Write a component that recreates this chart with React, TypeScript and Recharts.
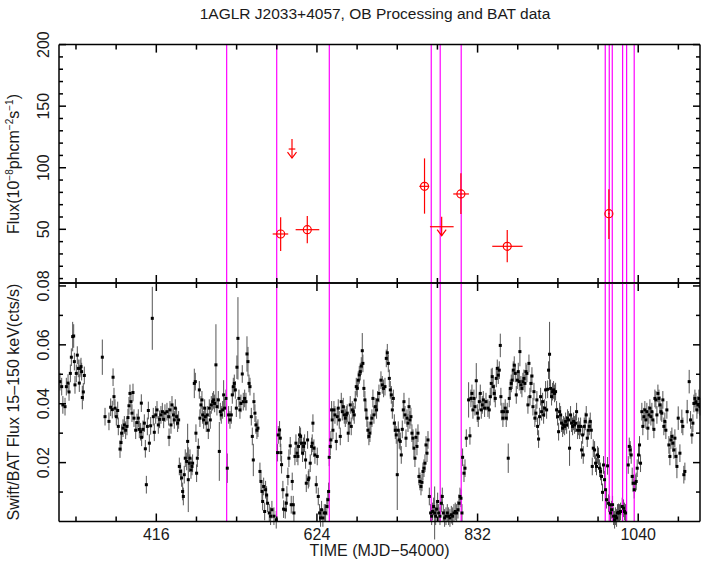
import React from "react";
import { ComposedChart, Scatter, XAxis, YAxis, ErrorBar, ReferenceLine } from "recharts";

const FONT = "'Liberation Sans', Arial, Helvetica, sans-serif";
const TEXT = "#1a1a1a";
const MAGENTA = "#ff00ff";
const RED = "#ff0000";

const X_DOMAIN = [290, 1120];
const X_TICKS = [312, 364, 416, 468, 520, 572, 624, 676, 728, 780, 832, 884, 936, 988, 1040, 1092];
const X_LABELS = [416, 624, 832, 1040];

const FLUX_TICKS = [10, 20, 30, 40, 50, 60, 70, 80, 90, 100, 110, 120, 130, 140, 150, 160, 170, 180, 190, 200];
const FLUX_LABELS = [50, 100, 150, 200];
const BAT_TICKS = [0.01, 0.02, 0.03, 0.04, 0.05, 0.06, 0.07, 0.08];
const BAT_LABELS = [0.02, 0.04, 0.06, 0.08];

// times of the pointing boundaries (MJD-54000)
const obsLines = [507.1, 571.9, 640, 772, 783.6, 810.8, 997.3, 1002.5, 1006.4, 1019.8, 1025, 1034.8];

// AGILE detections: t, flux, err lo, err hi, t lo, t hi
const agileDet = [
  [577, 46.2, 13.8, 13.5, 10.3, 9.8],
  [611.5, 49.7, 11.1, 11.1, 15.1, 15.5],
  [763.3, 84.9, 22.2, 22.7, 6.8, 6.1],
  [810.4, 78.7, 16.3, 16.8, 9.9, 10.4],
  [870.4, 36.2, 13, 13.2, 19.4, 19.9],
  [1002, 62.7, 20.6, 19.8, 1, 1],
];

// AGILE upper limits: t, flux UL, t lo, t hi
const agileUL = [
  [591.7, 115.2, 4.3, 4.3],
  [785.5, 52.1, 15.2, 15.5],
];

// Swift/BAT daily rates: t, rate, err (default 0.003)
const batPoints = [
  [291.3, 0.0475], [293.5, 0.0458], [295, 0.0396], [297.8, 0.039], [299.5, 0.0458], [301.7, 0.047], [303, 0.044],
  [304.7, 0.0503], [306, 0.0558], [307.7, 0.0628, 0.005], [309, 0.063, 0.004], [309.9, 0.0543], [310.7, 0.0464],
  [312.4, 0.0503], [313.7, 0.0565], [315, 0.052], [316.3, 0.047], [317.2, 0.052], [318.5, 0.0526], [319.3, 0.0509],
  [320.2, 0.0421, 0.004], [321.5, 0.044], [322.8, 0.0496],
  [346.1, 0.0558, 0.006], [349.6, 0.0356], [354.7, 0.034], [356.9, 0.0388], [359, 0.038], [360, 0.049], [361.2, 0.0424],
  [362.5, 0.0385], [364.2, 0.0356], [366, 0.0377], [366.8, 0.0323], [369, 0.0246], [370.3, 0.0268], [371.1, 0.03],
  [372.9, 0.0317], [374.6, 0.0328], [376.3, 0.031], [378, 0.0323], [379.3, 0.0353], [380.6, 0.0393], [381.9, 0.0435],
  [383.2, 0.0407], [384.5, 0.0368], [385.8, 0.0438], [387.1, 0.0351], [389.3, 0.031], [391, 0.0336], [392.7, 0.0351],
  [394, 0.0313], [395.7, 0.0305], [396.6, 0.0402], [397, 0.0286], [398.8, 0.0313], [400.5, 0.0334], [401.8, 0.0247],
  [403.1, 0.0125], [404.4, 0.0323], [405.7, 0.0377], [407, 0.0266], [408.7, 0.0325], [410.8, 0.069, 0.0107],
  [412.1, 0.0356], [413.4, 0.0303], [415.2, 0.0362], [416.9, 0.0379], [418.6, 0.0328], [420.3, 0.0347], [422, 0.0362],
  [423.8, 0.0373], [425.5, 0.0347], [427.2, 0.0368],
  [429.8, 0.0373], [432, 0.0356], [432.5, 0.0286], [433.7, 0.0379], [435, 0.0328], [436.3, 0.0396], [438, 0.0362],
  [439.3, 0.0345], [440.6, 0.0385], [442.3, 0.0356], [443.6, 0.0334], [444.9, 0.0345], [445.8, 0.0187], [447.5, 0.017],
  [448.8, 0.0148], [450.1, 0.0102], [451, 0.0085], [452.2, 0.0159], [453.5, 0.0215], [455.3, 0.0204],
  [456.6, 0.0272, 0.006], [457.4, 0.0142, 0.011], [458.7, 0.0198], [459.6, 0.0215], [460.9, 0.0175], [462.2, 0.0187],
  [463, 0.0198], [465.2, 0.0469, 0.005], [466.5, 0.0475], [467.3, 0.03], [468.2, 0.0164], [469.1, 0.0215],
  [470.4, 0.0252], [471.7, 0.0447], [472.5, 0.0351], [473.8, 0.0396], [475.1, 0.0413], [476, 0.0362], [477.3, 0.0345],
  [478.6, 0.0385], [479.4, 0.0356], [480.7, 0.0334], [482, 0.0362], [483.3, 0.031], [484.6, 0.0385], [485.9, 0.0345],
  [487.2, 0.0396], [489, 0.0407], [490.2, 0.0413], [491.5, 0.0401], [493.2, 0.0532, 0.0138], [494.5, 0.039],
  [496.3, 0.0413], [497.6, 0.0238, 0.01], [498.9, 0.0373], [500.1, 0.0362], [501.9, 0.0379], [503.2, 0.043, 0.005],
  [504.5, 0.0385], [506.2, 0.0418], [507.9, 0.0181, 0.005], [509.6, 0.0362], [511.4, 0.0345], [513.1, 0.0362],
  [514.4, 0.043], [515.7, 0.0458], [517, 0.0469], [518.3, 0.0447], [519.6, 0.0385], [520.4, 0.0524, 0.004],
  [521.7, 0.0622, 0.014], [523, 0.0418], [524.3, 0.0379], [525.6, 0.0401], [527.3, 0.0501], [528.6, 0.0407],
  [530.4, 0.0418], [532.1, 0.0407], [533.4, 0.0569, 0.006], [534.7, 0.0543, 0.005], [536, 0.0469], [537.3, 0.0458],
  [539, 0.0356], [540.3, 0.0289], [541.6, 0.0209, 0.0055], [542.4, 0.0407], [543.7, 0.0368], [545, 0.0328],
  [546.3, 0.031], [547.6, 0.0317], [550.2, 0.017], [551.5, 0.0136], [552.8, 0.0102], [553.7, 0.0068], [555, 0.0119],
  [556.3, 0.0034], [557.5, 0.0108], [558.8, 0.009], [560.1, 0.0062], [562.3, 0.0029], [564, 0.0018], [565.7, 0.004],
  [568.3, 0.0018], [571.3, 0.0006], [573, 0.0234], [573.9, 0.0294], [575.6, 0.0311], [576.5, 0.0283], [577.2, 0.0234],
  [578.2, 0.0193], [579.9, 0.0108], [580.8, 0.0042], [583, 0.004], [584.3, 0.0062], [585.1, 0.009], [586.4, 0.0153],
  [587.7, 0.0215], [589.4, 0.0257], [590.7, 0.0057], [592, 0.0136], [593.3, 0.0057], [594.2, 0.0029], [595.5, 0.0221],
  [596.8, 0.0266], [598.1, 0.0232], [599.4, 0.0221], [600.2, 0.0255], [601.5, 0.0294], [602.8, 0.0289], [604.1, 0.0266],
  [605.4, 0.0232], [606.7, 0.0255], [608, 0.0266], [609.3, 0.0209], [610.2, 0.013], [611.9, 0.0277], [612.8, 0.0142],
  [613.6, 0.0148], [615.3, 0.0198], [617.1, 0.0255], [617.9, 0.0266], [618.8, 0.0334], [620.1, 0.0249], [621.4, 0.0226],
  [623.1, 0.0125], [624.4, 0.0221], [625.7, 0.0085], [627.4, 0.0029], [628.7, 0.0012], [630, 0.004], [631.7, 0.0012],
  [633.5, 0.0029], [635.2, 0.0029], [636.9, 0.0051], [638.2, 0.0074], [639.1, 0.0102], [639.9, 0.0218], [641.2, 0.0255],
  [642.1, 0.0277], [643, 0.0379], [643.8, 0.0345], [644.7, 0.031], [646, 0.0379], [647.3, 0.0362], [649, 0.0272],
  [650.3, 0.0356], [651.6, 0.0385], [652.9, 0.0345], [654.2, 0.0289], [655.5, 0.0407], [656.8, 0.0373], [658.1, 0.039],
  [659.4, 0.0362], [660.7, 0.0351], [662, 0.0362], [663.2, 0.0368], [664.5, 0.03], [665.8, 0.0334], [667.1, 0.0396],
  [668.4, 0.0323], [669.7, 0.0379], [671, 0.0373], [672.3, 0.0362], [673.6, 0.0413], [674.9, 0.0458], [676.2, 0.0452],
  [677.5, 0.048], [678.8, 0.0498], [680.1, 0.0509], [681.4, 0.0528], [682.7, 0.058, 0.006], [683.5, 0.0537],
  [684.8, 0.0452], [686.1, 0.0413], [687.4, 0.0379], [688.7, 0.0351], [690, 0.031], [691.3, 0.0289], [692.6, 0.03],
  [693.9, 0.0334], [695.2, 0.0351], [696.5, 0.0418], [697.8, 0.0362], [699.5, 0.039], [701.2, 0.0379], [702.5, 0.0413],
  [704.3, 0.0435],
  [706.9, 0.048], [708.6, 0.0464], [710.3, 0.0452], [712.1, 0.0458], [713.8, 0.0554], [715.1, 0.0573], [716.4, 0.0537],
  [717.7, 0.0486], [719, 0.0447], [720.3, 0.043], [721.6, 0.0379], [722.9, 0.0418], [724.2, 0.0334], [725.5, 0.031],
  [726.7, 0.0294], [728, 0.0159, 0.012], [729.3, 0.031], [730.6, 0.0277], [731.9, 0.0272], [733.2, 0.0226],
  [734.5, 0.0313], [735.8, 0.0379], [736.7, 0.0407], [738, 0.0362], [739.3, 0.0283], [740.6, 0.0351], [741.9, 0.0334],
  [743.2, 0.039], [744.4, 0.0345], [745.7, 0.0356], [747, 0.03], [748.3, 0.0283], [749.6, 0.0249], [750.9, 0.0215],
  [752.2, 0.0286], [753.5, 0.0255], [754.8, 0.03], [756.1, 0.0153], [757.4, 0.0136], [758.7, 0.0119], [760, 0.0133],
  [761.3, 0.017], [762.6, 0.0181], [763.9, 0.0198], [765.2, 0.026], [766.5, 0.0232], [767.8, 0.0277], [769.5, 0.0085],
  [771.2, 0.0029], [772.5, 0.0018], [773.8, 0.0034], [775.1, 0.0051], [776.4, 0.0029, 0.009], [777.7, 0.0018],
  [779, 0.0042], [780.3, 0.0068], [781.6, 0.0029], [783.3, 0.0018], [785, 0.0062], [786.3, 0.0085], [787.6, 0.0029],
  [789.3, 0.0012], [791.1, 0.0018], [792.8, 0.0029], [794.5, 0.0018], [796.2, 0.0012], [798, 0.0023], [799.7, 0.0018],
  [801.4, 0.0029], [803.1, 0.0034], [804.9, 0.0029], [806.6, 0.004], [807.9, 0.0062], [809.2, 0.0085], [810.5, 0.0079],
  [811.8, 0.0029], [812.6, 0.0218], [814.4, 0.0164], [815.7, 0.0181], [817.4, 0.0283], [820.4, 0.0413, 0.006],
  [822.1, 0.0291], [823.4, 0.0418], [824.7, 0.0435], [826, 0.0379], [827.3, 0.0418], [828.6, 0.039], [830.3, 0.0478, 0.006],
  [831.6, 0.0368], [832.9, 0.0351], [834.2, 0.0407], [835.5, 0.0435], [836.8, 0.0379], [838.1, 0.0396], [839.4, 0.0413],
  [841.1, 0.0385], [842.9, 0.0407],
  [845.4, 0.0385], [847.1, 0.0379], [848.4, 0.0424], [849.7, 0.0469, 0.005], [851, 0.0492], [852.3, 0.0458],
  [853.6, 0.0435], [854.9, 0.0418], [856.2, 0.0486], [857.5, 0.052], [858.8, 0.0497], [860.1, 0.0514], [861.4, 0.0598, 0.004],
  [862.2, 0.0424], [863.5, 0.0373], [864.8, 0.0351], [866.1, 0.0373], [867.8, 0.0385], [869.1, 0.0351], [870.4, 0.0373],
  [871.7, 0.0215, 0.005], [873, 0.0418], [874.3, 0.0452], [875.6, 0.0469], [876.9, 0.048], [878.2, 0.0514], [879.5, 0.0531],
  [880.8, 0.0503], [882.1, 0.043], [883.4, 0.048], [884.7, 0.0509], [886, 0.0475], [886.8, 0.0577, 0.005], [888.1, 0.0464],
  [889.4, 0.0452], [890.7, 0.0475], [892, 0.0486], [893.3, 0.0469], [894.6, 0.0509], [895.9, 0.0503], [897.2, 0.0396],
  [898.5, 0.0537], [899.8, 0.0424], [901.1, 0.0469], [902.4, 0.0494], [903.7, 0.039], [905, 0.0441], [906.2, 0.0351],
  [907.5, 0.0368], [908.8, 0.0413], [909.7, 0.0323], [911, 0.028], [912.3, 0.0356], [913.6, 0.0424], [914.9, 0.0373],
  [916.2, 0.0407], [917.5, 0.0362], [918.8, 0.0385], [920.1, 0.0447], [921.4, 0.0379], [922.7, 0.0449], [923.9, 0.0514],
  [925.2, 0.0568, 0.011], [926.5, 0.0452], [927.8, 0.0424], [929.1, 0.0441], [930.4, 0.0447], [931.7, 0.0435],
  [933, 0.0441], [934.3, 0.0379], [935.6, 0.0356], [936.9, 0.0305], [938.2, 0.0373], [939.5, 0.0362], [940.8, 0.0334],
  [942.1, 0.0317], [943.4, 0.0328], [944.7, 0.0323], [946, 0.034], [947.3, 0.0328], [948.5, 0.0351], [949.8, 0.0345],
  [951.1, 0.0249, 0.006], [952.4, 0.0362], [953.7, 0.0334], [955, 0.0323], [956.3, 0.034], [957.6, 0.0328],
  [958.9, 0.0334], [960.2, 0.0373], [961.5, 0.031], [962.8, 0.0323], [964.1, 0.031], [965.4, 0.0323], [966.7, 0.0243],
  [968, 0.0294], [968.8, 0.0226], [970.1, 0.0323], [971.4, 0.034], [972.7, 0.0362], [974, 0.0283], [975.3, 0.031],
  [976.6, 0.0323], [977.9, 0.034], [979.2, 0.031], [980.5, 0.0187], [981.8, 0.0249],
  [983.5, 0.0243], [984.8, 0.0198], [986, 0.0187], [987.3, 0.0226], [988.6, 0.0221], [989.9, 0.0181], [991.2, 0.017],
  [992.5, 0.0153], [993.8, 0.0099], [995.1, 0.0192], [996.4, 0.0142], [997.7, 0.0108], [999, 0.0074], [1000.3, 0.0189],
  [1001.6, 0.0062], [1002.9, 0.0057], [1004.2, 0.0029], [1005.5, 0.004], [1006.8, 0.0057], [1008.1, 0.0018],
  [1009.4, 0.0006], [1010.7, 0.0018], [1012, 0.0012], [1013.2, 0.0029], [1014.5, 0.0031], [1015.8, 0.0029],
  [1017.1, 0.0034], [1019.3, 0.0051], [1021, 0.0045], [1022.3, 0.0034], [1023.6, 0.0029], [1027.1, 0.0192],
  [1028.4, 0.0255], [1029.6, 0.0243], [1030.9, 0.0226], [1032.2, 0.0153], [1033.5, 0.013], [1034.8, 0.0108],
  [1036.1, 0.013], [1037.4, 0.0136], [1038.7, 0.0181], [1040.4, 0.0226], [1041.7, 0.026], [1043, 0.0198],
  [1044.7, 0.0373], [1046, 0.0323], [1047.3, 0.0356], [1048.6, 0.0379], [1049.9, 0.0345], [1051.2, 0.0373],
  [1052.5, 0.0317, 0.004], [1053.8, 0.0362], [1055.1, 0.0385], [1056.4, 0.0356], [1057.7, 0.0373], [1059, 0.0345],
  [1060.3, 0.0313], [1061.6, 0.0418], [1062.9, 0.0413], [1064.2, 0.0362], [1065.5, 0.0435], [1066.8, 0.0418],
  [1068.1, 0.0396], [1069.4, 0.0373], [1070.6, 0.0368], [1071.9, 0.0413], [1073.2, 0.0323], [1074.5, 0.034],
  [1075.8, 0.031], [1077.1, 0.0379], [1079.7, 0.026], [1081, 0.0221], [1082.3, 0.0277], [1083.6, 0.0289],
  [1084.9, 0.0266], [1086.2, 0.0243], [1087.5, 0.0283], [1088.8, 0.0221], [1090.1, 0.0187, 0.004], [1091.8, 0.0351, 0.004],
  [1094, 0.0232], [1096.5, 0.034, 0.004], [1097.8, 0.0323], [1099.1, 0.0159], [1100.4, 0.017], [1103.4, 0.0373, 0.004],
  [1106, 0.0475, 0.004], [1107.8, 0.0345], [1109.5, 0.0294], [1110.8, 0.0334], [1112.1, 0.0401], [1113.4, 0.0418],
  [1114.7, 0.0407], [1116, 0.0379], [1117.3, 0.0396], [1118.6, 0.0418], [1119.9, 0.039],
];

const detData = agileDet.map(([t, f, lo, hi, tlo, thi]) => ({ t, f, ey: [lo, hi], ex: [tlo, thi] }));
const ulData = agileUL.map(([t, f, tlo, thi]) => ({ t, f, ex: [tlo, thi] }));
const batData = batPoints.map(([t, f, e]) => ({ t, f, e: e ?? 0.003 }));

function XTick(props: any) {
  const { x, y, payload, side, label } = props;
  const major = X_LABELS.includes(payload.value);
  const len = major ? 8 : 5;
  const dir = side === "top" ? 1 : -1;
  return (
    <g>
      <line x1={x} y1={y} x2={x} y2={y + dir * len} stroke="#000" strokeWidth={1.5} />
      {label && major && (
        <text x={x} y={y + 18.5} textAnchor="middle" fontSize={16} fontFamily={FONT} fill={TEXT}>
          {payload.value}
        </text>
      )}
    </g>
  );
}

function YTick(props: any) {
  const { x, y, payload, side, labels, digits } = props;
  const major = labels.includes(payload.value);
  const len = major ? 7 : 4;
  const dir = side === "left" ? 1 : -1;
  const lx = x - 10;
  return (
    <g>
      <line x1={x} y1={y} x2={x + dir * len} y2={y} stroke="#000" strokeWidth={1.5} />
      {side === "left" && major && (
        <text
          x={lx}
          y={y}
          transform={`rotate(-90, ${lx}, ${y})`}
          textAnchor="middle"
          fontSize={16}
          fontFamily={FONT}
          fill={TEXT}
        >
          {payload.value.toFixed(digits)}
        </text>
      )}
    </g>
  );
}

function UpperLimit(props: any) {
  const { cx, cy } = props;
  return (
    <g stroke={RED} strokeWidth={1.2} fill="none">
      <line x1={cx} y1={cy - 10} x2={cx} y2={cy + 9} />
      <polyline points={`${cx - 4.5},${cy + 3} ${cx},${cy + 9} ${cx + 4.5},${cy + 3}`} />
    </g>
  );
}

const axisLine = { stroke: "#000", strokeWidth: 1.5 };

// axes are 1px thick so that recharts draws them; margins are 1px smaller to compensate
function xAxes(bottomLabel: boolean) {
  return [
    <XAxis
      key="xb"
      xAxisId={0}
      type="number"
      dataKey="t"
      domain={X_DOMAIN}
      allowDataOverflow
      ticks={X_TICKS}
      interval={0}
      height={1}
      tickSize={0}
      tickMargin={0}
      tickLine={false}
      axisLine={axisLine}
      tick={(p: any) => <XTick {...p} side="bottom" label={bottomLabel} />}
    />,
    <XAxis
      key="xt"
      xAxisId="t"
      orientation="top"
      type="number"
      dataKey="t"
      domain={X_DOMAIN}
      allowDataOverflow
      ticks={X_TICKS}
      interval={0}
      height={1}
      tickSize={0}
      tickMargin={0}
      tickLine={false}
      axisLine={axisLine}
      tick={(p: any) => <XTick {...p} side="top" label={false} />}
    />,
  ];
}

function yAxes(domain: number[], ticks: number[], labels: number[], digits: number) {
  return [
    <YAxis
      key="yl"
      yAxisId={0}
      type="number"
      domain={domain}
      allowDataOverflow
      ticks={ticks}
      interval={0}
      width={1}
      tickSize={0}
      tickMargin={0}
      tickLine={false}
      axisLine={axisLine}
      tick={(p: any) => <YTick {...p} side="left" labels={labels} digits={digits} />}
    />,
    <YAxis
      key="yr"
      yAxisId="r"
      orientation="right"
      type="number"
      domain={domain}
      allowDataOverflow
      ticks={ticks}
      interval={0}
      width={1}
      tickSize={0}
      tickMargin={0}
      tickLine={false}
      axisLine={axisLine}
      tick={(p: any) => <YTick {...p} side="right" labels={labels} digits={digits} />}
    />,
  ];
}

export default function App() {
  return (
    <div style={{ position: "absolute", left: 0, top: 0, width: 701, height: 567, background: "#fff" }}>
      <svg width={701} height={567} style={{ position: "absolute", left: 0, top: 0 }} fontFamily={FONT} fill={TEXT}>
        <text x={375} y={19} textAnchor="middle" fontSize={15.5}>
          1AGLR J2033+4057, OB Processing and BAT data
        </text>
        <text x={379.5} y={556} textAnchor="middle" fontSize={16}>
          TIME (MJD−54000)
        </text>
        <text x={19} y={164} transform="rotate(-90, 19, 164)" textAnchor="middle" fontSize={16}>
          Flux(10
          <tspan dy={-6} fontSize={10}>−8</tspan>
          <tspan dy={6}>phcm</tspan>
          <tspan dy={-6} fontSize={10}>−2</tspan>
          <tspan dy={6}>s</tspan>
          <tspan dy={-6} fontSize={10}>−1</tspan>
          <tspan dy={6}>)</tspan>
        </text>
        <text x={19} y={402} transform="rotate(-90, 19, 402)" textAnchor="middle" fontSize={16}>
          Swift/BAT Flux 15–150 keV(cts/s)
        </text>
      </svg>

      <div style={{ position: "absolute", left: 0, top: 0 }}>
        <ComposedChart width={701} height={300} margin={{ top: 43.6, right: 0, bottom: 16, left: 58 }}>
          {xAxes(false)}
          {yAxes([6.4, 200], FLUX_TICKS, FLUX_LABELS, 0)}
          {obsLines.map((v) => (
            <ReferenceLine key={v} x={v} stroke={MAGENTA} strokeWidth={1.2} />
          ))}
          <Scatter
            data={detData}
            dataKey="f"
            isAnimationActive={false}
            shape={(p: any) => <circle cx={p.cx} cy={p.cy} r={4} fill="none" stroke={RED} strokeWidth={1.2} />}
          >
            <ErrorBar dataKey="ey" direction="y" width={0} stroke={RED} strokeWidth={1.2} />
            <ErrorBar dataKey="ex" direction="x" width={0} stroke={RED} strokeWidth={1.2} />
          </Scatter>
          <Scatter data={ulData} dataKey="f" isAnimationActive={false} shape={(p: any) => <UpperLimit {...p} />}>
            <ErrorBar dataKey="ex" direction="x" width={0} stroke={RED} strokeWidth={1.2} />
          </Scatter>
        </ComposedChart>
      </div>

      <div style={{ position: "absolute", left: 0, top: 270 }}>
        <ComposedChart width={701} height={297} margin={{ top: 12, right: 0, bottom: 44.5, left: 58 }}>
          {xAxes(true)}
          {yAxes([0, 0.081], BAT_TICKS, BAT_LABELS, 2)}
          <Scatter
            data={batData}
            dataKey="f"
            isAnimationActive={false}
            shape={(p: any) => <rect x={p.cx - 1.5} y={p.cy - 1.5} width={3} height={3} fill="#000" />}
          >
            <ErrorBar dataKey="e" direction="y" width={0} stroke="#555" strokeWidth={1} />
          </Scatter>
          {obsLines.map((v) => (
            <ReferenceLine key={v} x={v} stroke={MAGENTA} strokeWidth={1.2} />
          ))}
        </ComposedChart>
      </div>
    </div>
  );
}
